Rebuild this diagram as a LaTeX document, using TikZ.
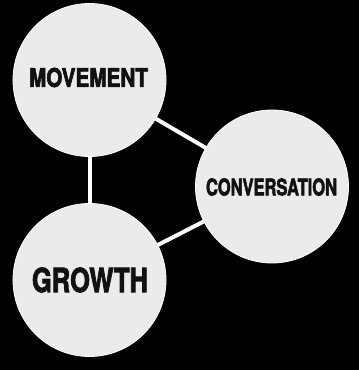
\documentclass[tikz,border=0pt]{standalone}
\usepackage{fontspec}
\setmainfont{Liberation Sans}
\newfontfamily\heavyfont{TeX Gyre Heros}[BoldFeatures={FakeBold=3}]
\usepackage{graphicx}
\definecolor{bubble}{HTML}{EBEBEB}
\definecolor{ink}{HTML}{111111}
\begin{document}
\begin{tikzpicture}[x=1pt,y=-1pt,
  bubblenode/.style={circle,fill=bubble,draw=white,line width=0.8pt,minimum size=153pt,inner sep=0pt},
  link/.style={draw=white,line width=4pt},
  lbl/.style={inner sep=0pt,text=ink,font=\heavyfont\bfseries}]
\fill[black] (0,0) rectangle (359,370);
\useasboundingbox (0,0) rectangle (359,370);
\coordinate (m) at (89.5,80);
\coordinate (c) at (272,186.5);
\coordinate (g) at (89.5,280);
\draw[link] (m) -- (g);
\draw[link] (m) -- (c);
\draw[link] (g) -- (c);
\node[bubblenode] (M) at (m) {};
\node[bubblenode] (C) at (c) {};
\node[bubblenode] (G) at (g) {};
\node[lbl] (Mt) at (88.5,77.5) {\resizebox{119pt}{19pt}{MOVEMENT}};
\node[lbl] (Ct) at (271.5,187) {\resizebox{131pt}{17pt}{CONVERSATION}};
\node[lbl] (Gt) at (90,280) {\resizebox{116pt}{24.5pt}{GROWTH}};
\end{tikzpicture}
\end{document}
